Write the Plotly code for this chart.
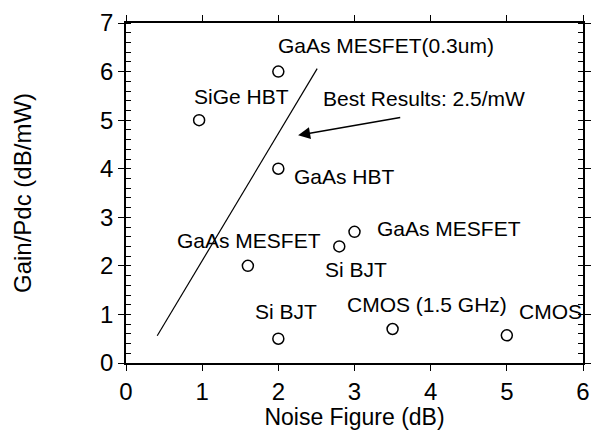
import plotly.graph_objects as go

# Device data: noise figure (dB) vs. gain per DC power (dB/mW)
noise_figure = [0.96, 2.0, 2.0, 1.6, 2.0, 2.8, 3.0, 3.5, 5.0]
gain_per_pdc = [5.0, 6.0, 4.0, 2.0, 0.5, 2.4, 2.7, 0.7, 0.57]

# Device labels with their anchor positions (data coordinates, left-anchored)
label_text = ["SiGe HBT", "GaAs MESFET(0.3um)", "GaAs HBT", "GaAs MESFET", "Si BJT",
              "Si BJT", "GaAs MESFET", "CMOS (1.5 GHz)", "CMOS"]
label_x = [0.86, 1.97, 2.18, 0.64, 1.67, 2.59, 3.27, 2.88, 5.13]
label_y = [5.49, 6.54, 3.85, 2.53, 1.07, 1.92, 2.76, 1.21, 1.06]

# Best-results boundary line
bound_x = [0.41, 2.51]
bound_y = [0.56, 6.06]

# Arrow pointing at the boundary line
arrow_tail = (3.62, 5.06)
arrow_head = (2.26, 4.69)
arrow_label = "Best Results: 2.5/mW"
arrow_label_pos = (2.56, 5.44)

x_ticks = [0, 1, 2, 3, 4, 5, 6]
y_ticks = [0, 1, 2, 3, 4, 5, 6, 7]

FONT = "Liberation Sans, Arial, Helvetica, sans-serif"

fig = go.Figure()

fig.add_trace(go.Scatter(
    x=bound_x, y=bound_y, mode="lines",
    line=dict(color="black", width=1.2),
    showlegend=False, hoverinfo="skip",
))

fig.add_trace(go.Scatter(
    x=noise_figure, y=gain_per_pdc, mode="markers",
    marker=dict(symbol="circle-open", size=11, color="black", line=dict(width=1.5)),
    showlegend=False,
))

annotations = []
for t, lx, ly in zip(label_text, label_x, label_y):
    annotations.append(dict(
        x=lx, y=ly, xref="x", yref="y", text=t, showarrow=False,
        xanchor="left", yanchor="middle",
        font=dict(family=FONT, size=21, color="black"),
    ))

annotations.append(dict(
    x=arrow_label_pos[0], y=arrow_label_pos[1], xref="x", yref="y",
    text=arrow_label, showarrow=False, xanchor="left", yanchor="middle",
    font=dict(family=FONT, size=21, color="black"),
))

annotations.append(dict(
    x=arrow_head[0], y=arrow_head[1], xref="x", yref="y",
    ax=arrow_tail[0], ay=arrow_tail[1], axref="x", ayref="y",
    text="", showarrow=True, arrowhead=2, arrowsize=1.6, arrowwidth=1.5,
    arrowcolor="black",
))

fig.update_layout(
    width=592, height=430,
    margin=dict(l=126, r=9, t=23, b=67),
    paper_bgcolor="white", plot_bgcolor="white",
    annotations=annotations,
)

# Boxed axes: major ticks outward on all sides, minor ticks inward on the y sides
axis_style = dict(
    showgrid=False, zeroline=False, automargin=False, layer="above traces",
    showline=True, linecolor="black", linewidth=1.6, mirror="allticks",
    ticks="outside", ticklen=6, tickwidth=1.3, tickcolor="black",
    tickfont=dict(family=FONT, size=24, color="black"),
)

fig.update_xaxes(
    range=[0, 6], tickvals=x_ticks, ticktext=[str(v) for v in x_ticks],
    title=dict(text="Noise Figure (dB)", font=dict(family=FONT, size=23, color="black"),
               standoff=8),
    **axis_style,
)

fig.update_yaxes(
    range=[0, 7], tickvals=y_ticks, ticktext=[str(v) for v in y_ticks],
    minor=dict(dtick=0.2, tick0=0, ticks="inside", ticklen=5, tickwidth=1.0,
               tickcolor="black", showgrid=False),
    title=dict(text="Gain/Pdc (dB/mW)", font=dict(family=FONT, size=24, color="black"),
               standoff=62),
    **axis_style,
)

fig.write_html("out.html")
